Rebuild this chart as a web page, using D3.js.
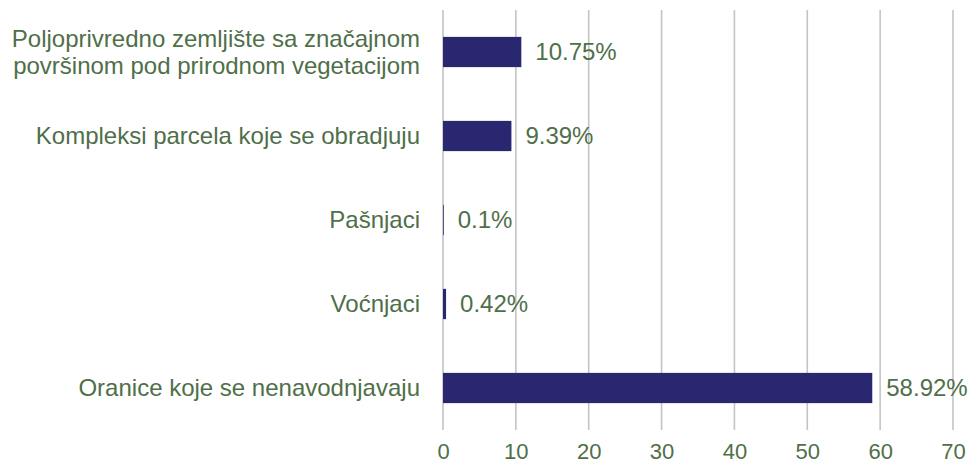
<!DOCTYPE html>
<html>
<head>
<meta charset="utf-8">
<script src="https://cdn.jsdelivr.net/npm/d3@7"></script>
<style>
  body { margin: 0; background: #fff; }
  text { font-family: "Liberation Sans", Arial, sans-serif; }
</style>
</head>
<body>
<svg></svg>
<script>
// data, top to bottom as in the picture
var categories = [
  ['Poljoprivredno zemljište sa značajnom', 'površinom pod prirodnom vegetacijom'],
  ['Kompleksi parcela koje se obradjuju'],
  ['Pašnjaci'],
  ['Voćnjaci'],
  ['Oranice koje se nenavodnjavaju']
];
var values = [10.75, 9.39, 0.1, 0.42, 58.92];
var valueLabels = ['10.75%', '9.39%', '0.1%', '0.42%', '58.92%'];
var xTicks = [0, 10, 20, 30, 40, 50, 60, 70];

var width = 974, height = 468;
var margin = {top: 10, right: 21, bottom: 38, left: 443};
var textColor = '#4f6f49';
var barColor = '#28276f';

var svg = d3.select('svg')
    .attr('width', width)
    .attr('height', height);

var data = categories.map((c, i) => ({lines: c, value: values[i], label: valueLabels[i]}));

var xScale = d3.scaleLinear()
    .domain([0, 70])
    .range([margin.left, width - margin.right]);

var yScale = d3.scaleBand()
    .domain(d3.range(data.length))
    .range([margin.top, height - margin.bottom])
    .paddingInner(0.64)
    .paddingOuter(0.32);

// gridlines
svg.append('g')
  .selectAll('line')
  .data(xTicks)
  .enter()
  .append('line')
    .attr('x1', d => xScale(d))
    .attr('x2', d => xScale(d))
    .attr('y1', margin.top)
    .attr('y2', height - margin.bottom)
    .attr('stroke', '#c4c4c4')
    .attr('stroke-width', 1.6);

// x axis
var xAxis = d3.axisBottom(xScale)
    .tickValues(xTicks)
    .tickSize(0)
    .tickPadding(13);

var gx = svg.append('g')
    .attr('transform', `translate(0, ${height - margin.bottom})`)
    .call(xAxis);
gx.select('.domain').remove();
gx.selectAll('text')
    .attr('fill', textColor)
    .style('font-size', '22px')
    .style('font-family', '"Liberation Sans", Arial, sans-serif');

// bars
svg.append('g')
  .selectAll('rect')
  .data(data)
  .enter()
  .append('rect')
    .attr('x', xScale(0))
    .attr('y', (d, i) => yScale(i))
    .attr('width', d => xScale(d.value) - xScale(0))
    .attr('height', yScale.bandwidth())
    .attr('fill', barColor);

// value labels
svg.append('g')
  .selectAll('text')
  .data(data)
  .enter()
  .append('text')
    .attr('x', d => xScale(d.value) + 14)
    .attr('y', (d, i) => yScale(i) + yScale.bandwidth() / 2)
    .attr('dy', '0.35em')
    .attr('fill', textColor)
    .style('font-size', '24px')
    .text(d => d.label);

// category labels
var cat = svg.append('g')
  .selectAll('text')
  .data(data)
  .enter()
  .append('text')
    .attr('x', margin.left - 23)
    .attr('y', (d, i) => yScale(i) + yScale.bandwidth() / 2)
    .attr('text-anchor', 'end')
    .attr('fill', textColor)
    .style('font-size', '24px');

cat.selectAll('tspan')
  .data(d => d.lines.map((l, j) => ({text: l, n: d.lines.length, j: j})))
  .enter()
  .append('tspan')
    .attr('x', margin.left - 23)
    .attr('dy', d => d.j === 0 ? (0.35 - (d.n - 1) * 0.55) + 'em' : '1.1em')
    .text(d => d.text);
</script>
</body>
</html>
